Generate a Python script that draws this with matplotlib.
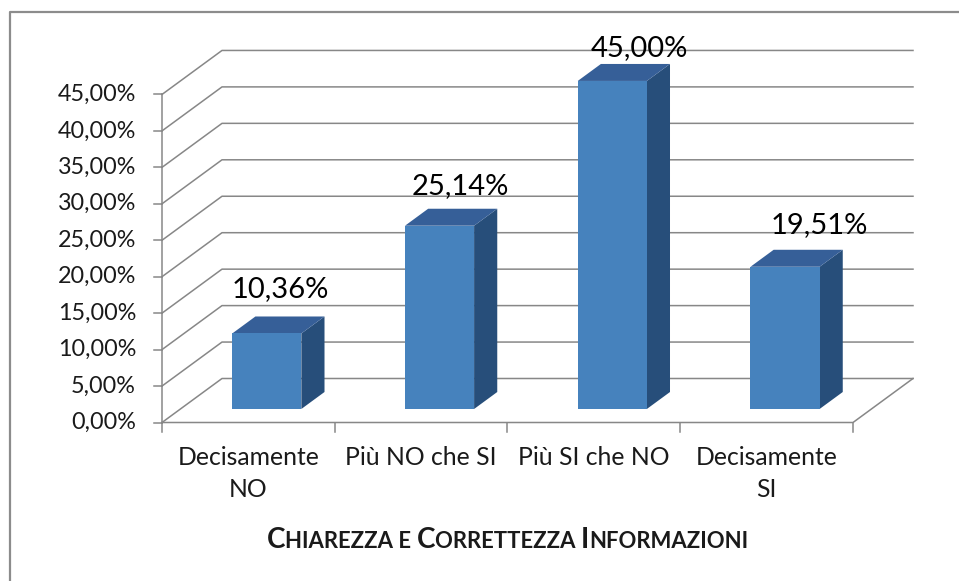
import matplotlib
matplotlib.use('Agg')
import matplotlib.pyplot as plt
from matplotlib.patches import Polygon
from matplotlib.lines import Line2D

plt.rcParams['font.family'] = ['Lato', 'DejaVu Sans']

categories = ['Decisamente\nNO', 'Più NO che SI', 'Più SI che NO', 'Decisamente\nSI']
values = [10.36, 25.14, 45.00, 19.51]
value_labels = ['10,36%', '25,14%', '45,00%', '19,51%']
y_ticks = [0, 5, 10, 15, 20, 25, 30, 35, 40, 45]
y_tick_labels = ['0,00%', '5,00%', '10,00%', '15,00%', '20,00%', '25,00%',
                 '30,00%', '35,00%', '40,00%', '45,00%']
title_parts = [('C', 'big'), ('HIAREZZA E ', 'small'), ('C', 'big'),
               ('ORRETTEZZA ', 'small'), ('I', 'big'), ('NFORMAZIONI', 'small')]

W, H = 959, 581
fig = plt.figure(figsize=(W / 100, H / 100), dpi=100)
ax = fig.add_axes([0, 0, 1, 1])

# data units <-> pixels of the reference
X0, SX = 162, 172.75
Y0, SY = 422.5, 7.29
ax.set_xlim(-X0 / SX, (W - X0) / SX)
ax.set_ylim((Y0 - H) / SY, Y0 / SY)
ax.axis('off')

# oblique depth of the 3d box
DX = 60 / SX
DY = 44 / SY
n = len(categories)
grid_c = '#878787'
text_c = '#1a1a1a'

# outer frame (cut at right and bottom)
fig.add_artist(Line2D([10 / W, 10 / W, 1.0], [0.0, 1 - 12 / H, 1 - 12 / H],
                      transform=fig.transFigure, color='#8c8c8c', lw=1.6))

# walls: gridlines
for y in y_ticks:
    ax.plot([0, DX, n + DX], [y, y + DY, y + DY], color=grid_c, lw=1.1, zorder=1)
    ax.plot([-0.046, 0], [y, y], color=grid_c, lw=1.1, zorder=1)
    ax.text(-0.15, y, y_tick_labels[y_ticks.index(y)], ha='right', va='center',
            fontsize=16.8, color=text_c)
ax.plot([0, n, n + DX], [0, 0, DY], color=grid_c, lw=1.1, zorder=1)
ax.plot([0, 0], [0, y_ticks[-1]], color=grid_c, lw=1.1, zorder=1)
for i in range(n + 1):
    ax.plot([i, i], [0, -1.25], color=grid_c, lw=1.1, zorder=1)

# bars
f1, fd, bw = 0.307, 0.386, 0.40
ddx, ddy = fd * DX, fd * DY
for i, v in enumerate(values):
    x0 = i + 0.5 - bw / 2 + f1 * DX
    y0 = f1 * DY
    front = [(x0, y0), (x0 + bw, y0), (x0 + bw, y0 + v), (x0, y0 + v)]
    top = [(x0, y0 + v), (x0 + bw, y0 + v), (x0 + bw + ddx, y0 + v + ddy), (x0 + ddx, y0 + v + ddy)]
    side = [(x0 + bw, y0), (x0 + bw + ddx, y0 + ddy), (x0 + bw + ddx, y0 + v + ddy), (x0 + bw, y0 + v)]
    ax.add_patch(Polygon(side, closed=True, facecolor='#274e7a', edgecolor='none', zorder=3))
    ax.add_patch(Polygon(top, closed=True, facecolor='#365f98', edgecolor='none', zorder=3))
    ax.add_patch(Polygon(front, closed=True, facecolor='#4682bd', edgecolor='none', zorder=4))
    # value labels
    ax.text(i + 0.5 + 0.185 + 0.04 * i, 8.5 + 0.953 * v, value_labels[i],
            ha='center', va='center', fontsize=21, color='black', zorder=5)

# category labels
for i, c in enumerate(categories):
    ax.text(i + 0.5, -3.2, c, ha='center', va='top', fontsize=17.8,
            color=text_c, linespacing=1.5)

# axis title in small caps
renderer = fig.canvas.get_renderer()
ty = -17.2
texts = []
for s, kind in title_parts:
    fs = 20 if kind == 'big' else 15.9
    texts.append(ax.text(0, ty, s, fontsize=fs, fontweight='bold', ha='left',
                         va='baseline', color=text_c))
widths = [t.get_window_extent(renderer).width for t in texts]
cx = ax.transData.transform((2.0, ty))[0]
px = cx - sum(widths) / 2
for t, w in zip(texts, widths):
    t.set_x(ax.transData.inverted().transform((px, 0))[0])
    px += w

fig.savefig('out.png', dpi=100)
